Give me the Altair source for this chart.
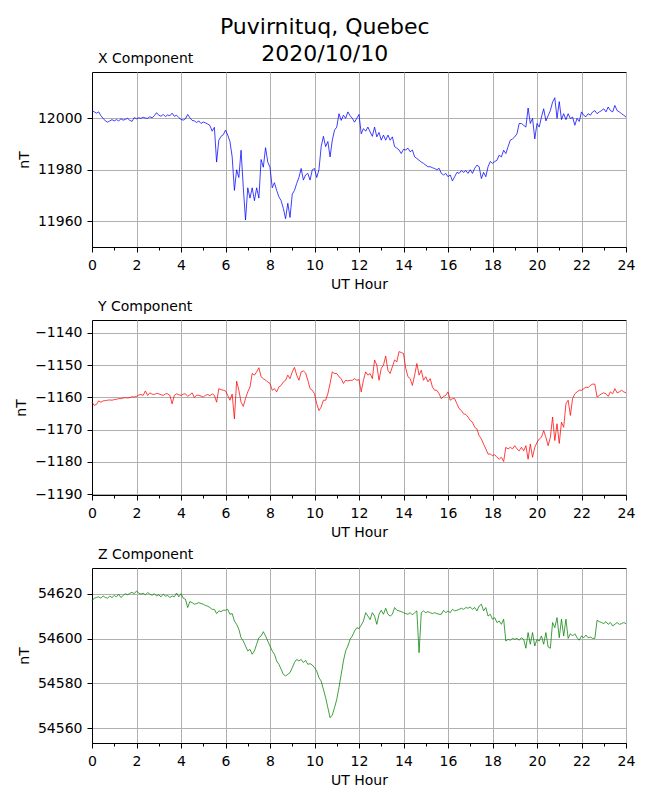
import altair as alt
import pandas as pd

# UT hours, 0.1 h sampling
hours = [round(i * 0.1, 1) for i in range(241)]

x_vals = [
    12003, 12002.5, 12002, 12002.5, 12001, 12000, 11999, 11998.5, 11999, 11999.5,
    11999, 11999.5, 11999, 11999.8, 11999.3, 11999.6, 12000, 11999.2, 11998.8, 12000.3,
    11999.8, 12000.2, 12000, 12000.4, 12000.1, 12000, 12000.6, 12000.2, 12001, 12002.2,
    12001.2, 12000.8, 12001.5, 12000.7, 12001.3, 12001, 12002, 12000.8, 12001.2, 12000.3,
    11999.6, 11999.3, 11999.8, 12001.5, 12000.2, 11999.2, 11999, 11998.4, 11999, 11998,
    11998.6, 11998.2, 11997.8, 11997.2, 11995, 11996.5, 11983, 11991.5, 11993, 11993.6,
    11995.4, 11993.5, 11991, 11985, 11972, 11980, 11977, 11987.6, 11973, 11960.5,
    11973, 11969, 11973, 11968, 11973, 11969, 11984, 11981, 11988.6, 11983,
    11981, 11973, 11975, 11972, 11969.5, 11968, 11965, 11961, 11967, 11961.5,
    11970.5, 11972, 11974.7, 11977, 11980.5, 11976, 11978, 11978.6, 11976, 11980,
    11980.5, 11977, 11980, 11989, 11993, 11989, 11991, 11985, 11991.5, 11995.4,
    11996.6, 12001.8, 11999.2, 12001.2, 12000, 12002.5, 12001, 12000, 11998.5, 12000,
    12001.5, 11994, 11996, 11995, 11996.6, 11994.7, 11993, 11996.6, 11992.8, 11994.5,
    11991.5, 11993.5, 11991.5, 11993.5, 11991.5, 11992.8, 11989, 11988.4, 11987.7, 11986.3,
    11988, 11987.7, 11988.4, 11987, 11987.7, 11985, 11984.4, 11983.7, 11983, 11982.5,
    11981.8, 11981.2, 11981.2, 11980.8, 11980.5, 11980, 11980.6, 11978.6, 11978, 11978.6,
    11977.3, 11978, 11975.7, 11977.3, 11979, 11978.6, 11979.7, 11979, 11979.7, 11978.6,
    11980, 11978.6, 11980.6, 11981.8, 11981.2, 11976.6, 11979, 11977.3, 11981.2, 11983.2,
    11982.5, 11983.2, 11983.7, 11985.7, 11985, 11987.6, 11986.3, 11989, 11991.5, 11992,
    11992.8, 11994, 11998, 11998, 11997.3, 11996.6, 12004, 11998, 12000, 11992,
    11998, 11996.6, 12000.5, 12003.7, 11999, 12001, 12003, 12006.3, 12008, 12000,
    12006.5, 11999.5, 12001.8, 11999.5, 12001.8, 11999.9, 12000.5, 11997.3, 12000, 11998.8,
    12002.5, 12001.2, 12000.6, 12001.8, 12001.2, 12002.5, 12003, 12001.8, 12002.5, 12003,
    12003.7, 12002.5, 12004.4, 12003, 12002.5, 12005, 12003, 12002.5, 12001.8, 12001.2,
    12000.5,
]

y_vals = [
    -1161.5, -1162.5, -1162.2, -1161.1, -1161.5, -1161.1, -1161.0, -1160.9, -1160.8, -1160.9,
    -1160.7, -1160.6, -1160.4, -1160.4, -1160.2, -1160.1, -1160.2, -1160.1, -1159.8, -1159.9,
    -1159.7, -1159.3, -1159.1, -1159.4, -1158.0, -1159.4, -1158.6, -1159.0, -1159.1, -1158.8,
    -1158.9, -1159.2, -1159.4, -1158.9, -1158.9, -1159.4, -1162.0, -1159.4, -1158.9, -1159.2,
    -1159.4, -1159.0, -1158.9, -1159.7, -1159.2, -1158.6, -1160.1, -1159.3, -1159.4, -1159.6,
    -1159.9, -1159.4, -1159.1, -1159.5, -1158.9, -1159.4, -1161.5, -1157.3, -1157.6, -1157.8,
    -1158.0, -1159.4, -1160.9, -1159.0, -1166.7, -1155.0, -1157.8, -1161.5, -1162.8, -1160.4,
    -1158.3, -1156.8, -1152.6, -1153.1, -1152.1, -1150.8, -1153.6, -1154.2, -1154.7, -1155.2,
    -1155.7, -1157.8, -1157.3, -1158.3, -1156.8, -1156.3, -1155.2, -1154.7, -1153.1, -1154.2,
    -1152.1, -1150.7, -1153.1, -1154.7, -1152.1, -1151.8, -1152.4, -1154.7, -1157.3, -1157.8,
    -1158.9, -1162.0, -1164.1, -1163.0, -1160.9, -1160.9, -1158.9, -1155.7, -1152.1, -1152.6,
    -1152.6, -1153.6, -1154.2, -1155.7, -1154.7, -1154.9, -1154.7, -1154.7, -1154.2, -1154.7,
    -1154.5, -1158.3, -1154.7, -1152.1, -1153.1, -1152.6, -1154.2, -1148.4, -1150.0, -1154.7,
    -1151.0, -1150.0, -1147.2, -1151.6, -1152.6, -1150.5, -1148.4, -1149.0, -1145.8, -1146.1,
    -1146.4, -1151.0, -1153.6, -1154.2, -1156.3, -1153.1, -1149.5, -1153.1, -1151.6, -1154.7,
    -1153.6, -1155.2, -1154.2, -1156.8, -1157.8, -1157.8, -1158.9, -1160.4, -1159.7, -1159.4,
    -1158.3, -1160.9, -1160.4, -1160.4, -1162.0, -1163.5, -1164.1, -1165.1, -1165.3, -1166.1,
    -1167.2, -1167.7, -1169.3, -1169.8, -1171.9, -1172.9, -1174.5, -1176.0, -1177.6, -1177.6,
    -1178.1, -1177.8, -1178.6, -1179.2, -1178.6, -1179.9, -1175.5, -1176.0, -1175.5, -1176.0,
    -1175.0, -1176.0, -1176.6, -1175.5, -1176.6, -1175.0, -1179.2, -1174.5, -1178.6, -1175.5,
    -1174.0, -1172.9, -1172.4, -1170.3, -1172.4, -1175.0, -1172.4, -1166.1, -1173.4, -1168.2,
    -1174.3, -1167.7, -1169.3, -1162.0, -1160.9, -1165.6, -1160.4, -1158.9, -1158.3, -1157.8,
    -1157.8, -1157.3, -1156.8, -1157.0, -1156.3, -1155.9, -1155.9, -1159.9, -1159.4, -1158.9,
    -1158.6, -1158.9, -1159.7, -1158.3, -1158.9, -1157.3, -1158.6, -1158.3, -1157.8, -1158.3,
    -1158.6,
]

z_vals = [
    54616.9, 54618.1, 54618.4, 54618.7, 54618.1, 54619.1, 54618.4, 54618.1, 54619.0, 54618.4,
    54619.3, 54618.7, 54619.9, 54618.4, 54619.3, 54620.1, 54619.6, 54620.3, 54620.7, 54620.1,
    54621.3, 54620.4, 54619.9, 54620.3, 54619.6, 54620.6, 54619.9, 54619.4, 54620.1, 54619.1,
    54619.6, 54618.7, 54619.9, 54619.0, 54619.3, 54618.4, 54619.1, 54618.7, 54620.4, 54618.7,
    54620.1, 54618.1, 54617.6, 54613.9, 54616.6, 54616.1, 54615.4, 54615.7, 54616.1, 54615.7,
    54615.4, 54614.8, 54614.5, 54613.9, 54613.1, 54613.1, 54611.2, 54612.4, 54612.1, 54612.7,
    54612.7, 54613.1, 54610.9, 54611.2, 54607.9, 54606.4, 54604.2, 54600.4, 54598.9, 54596.7,
    54594.5, 54595.2, 54593.0, 54594.5, 54597.5, 54600.4, 54601.2, 54603.1, 54601.2, 54598.9,
    54596.7, 54594.5, 54593.0, 54590.0, 54588.5, 54586.3, 54584.0, 54583.3, 54584.0, 54584.8,
    54587.0, 54589.3, 54590.7, 54590.0, 54590.7, 54589.3, 54590.3, 54588.5, 54588.8, 54588.2,
    54587.0, 54585.5, 54582.5, 54581.0, 54577.3, 54573.6, 54569.1, 54564.6, 54565.8, 54569.1,
    54572.8, 54578.1, 54584.0, 54590.0, 54594.5, 54596.7, 54599.7, 54601.2, 54603.4, 54604.9,
    54604.5, 54606.0, 54607.9, 54611.6, 54610.1, 54608.5, 54611.6, 54610.1, 54606.4, 54610.9,
    54612.7, 54610.9, 54613.6, 54610.9, 54610.1, 54610.9, 54613.9, 54612.7, 54612.4, 54612.1,
    54611.6, 54611.2, 54610.9, 54611.6, 54610.6, 54611.6, 54612.4, 54593.7, 54611.6, 54612.4,
    54611.6, 54612.1, 54611.6, 54611.2, 54611.6, 54611.2, 54610.9, 54610.9, 54612.7, 54611.6,
    54612.4, 54611.6, 54613.1, 54612.4, 54612.7, 54613.1, 54613.6, 54613.1, 54613.9, 54613.6,
    54614.2, 54613.1, 54613.9, 54612.4, 54614.6, 54615.4, 54612.4, 54613.9, 54610.1, 54610.9,
    54608.7, 54609.4, 54607.2, 54607.9, 54606.4, 54608.7, 54598.9, 54599.7, 54599.3, 54600.1,
    54599.7, 54600.1, 54599.3, 54600.4, 54599.7, 54595.7, 54602.7, 54597.5, 54602.7, 54596.7,
    54599.7, 54598.9, 54601.2, 54597.5, 54602.7, 54596.3, 54595.7, 54607.2, 54604.9, 54609.4,
    54600.4, 54608.7, 54601.2, 54608.7, 54600.1, 54602.2, 54601.2, 54602.2, 54600.4, 54599.3,
    54601.2, 54600.4, 54601.6, 54600.4, 54600.7, 54600.1, 54600.1, 54608.2, 54607.6, 54607.2,
    54606.7, 54607.6, 54606.4, 54607.2, 54605.7, 54606.4, 54607.2, 54606.4, 54606.7, 54607.2,
    54606.7,
]

hour_ticks = list(range(0, 25))
x_domain = [11950, 12018]
x_ticks = [11960, 11980, 12000]
y_domain = [-1190.3, -1136]
y_ticks = [-1190, -1180, -1170, -1160, -1150, -1140]
z_domain = [54553.3, 54631.6]
z_ticks = [54560, 54580, 54600, 54620]

FONT = "DejaVu Sans"
even = "datum.value % 2 === 0"


def panel(vals, color, title, domain, ticks):
    df = pd.DataFrame({"hour": hours, "val": vals})
    return (
        alt.Chart(
            df,
            title=alt.TitleParams(
                title, anchor="start", frame="group", dx=6, offset=6, fontSize=14,
                fontWeight="normal", font=FONT, color="black",
            ),
        )
        .mark_line(color=color, strokeWidth=0.75)
        .encode(
            x=alt.X(
                "hour:Q",
                scale=alt.Scale(domain=[0, 24], nice=False, zero=False),
                axis=alt.Axis(
                    values=hour_ticks,
                    format="d",
                    labelExpr=f"{even} ? datum.label : ''",
                    tickSize={"condition": {"test": even, "value": 5}, "value": 3},
                    gridOpacity={"condition": {"test": even, "value": 1}, "value": 0},
                    title="UT Hour",
                    titlePadding=5,
                    labelPadding=6,
                ),
            ),
            y=alt.Y(
                "val:Q",
                scale=alt.Scale(domain=domain, nice=False, zero=False),
                axis=alt.Axis(values=ticks, format="d", title="nT",
                              titlePadding=6, labelPadding=5),
            ),
        )
        .properties(width=534, height=175)
    )


chart = (
    alt.vconcat(
        panel(x_vals, "blue", "X Component", x_domain, x_ticks),
        panel(y_vals, "red", "Y Component", y_domain, y_ticks),
        panel(z_vals, "green", "Z Component", z_domain, z_ticks),
        spacing=73,
        bounds="flush",
    )
    .properties(
        title=alt.TitleParams(
            ["Puvirnituq, Quebec", "2020/10/10"],
            fontSize=22, fontWeight="normal", font=FONT, color="black",
            anchor="middle", lineHeight=27, offset=-14,
        ),
        background="white",
        padding={"left": 6, "top": 7, "right": 5, "bottom": 5},
    )
    .configure_view(stroke="black", strokeWidth=1)
    .configure_axis(
        labelFont=FONT, titleFont=FONT, labelFontSize=14, titleFontSize=14,
        titleFontWeight="normal", labelColor="black", titleColor="black",
        domainColor="black", tickColor="black", gridColor="#b0b0b0",
        gridWidth=1, labelFlush=False, labelOverlap=False,
    )
)

chart.save("out.html", embed_options={"renderer": "svg", "actions": False})
